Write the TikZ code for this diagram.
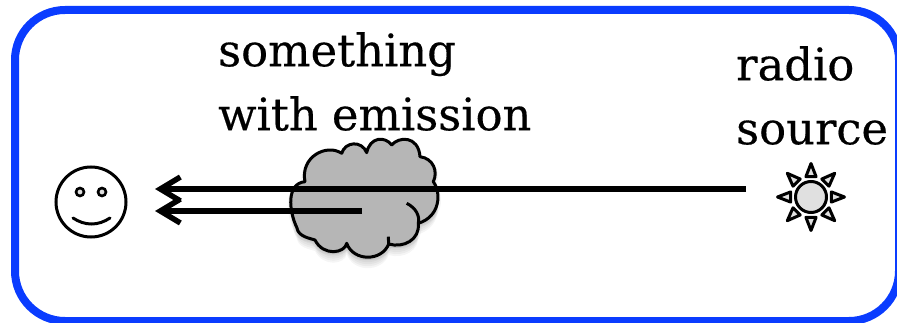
\documentclass[tikz,border=0pt]{standalone}
\usepackage{fontspec}
\setmainfont{DejaVu Serif}[FakeBold=0.35]
\usepackage{tikz}
\usetikzlibrary{arrows.meta,positioning,calc}
\definecolor{framemain}{HTML}{0A3CFF}
\definecolor{cloudgray}{HTML}{B6B6B6}
\definecolor{sungray}{HTML}{E0E0E0}
\newcommand{\cloudpath}{(305,181.7) .. controls (300,156.7) and (326.7,143.3) .. (341.7,153.3)
  .. controls (345,141.7) and (361.7,140) .. (366.7,152.7)
  .. controls (370,136.7) and (385,136) .. (391.7,145)
  .. controls (398.3,136.7) and (418.3,135) .. (420,156.7)
  .. controls (433.3,158.3) and (438.3,171.7) .. (433.3,181.7)
  .. controls (441.7,193.3) and (440,216.7) .. (418.3,223.3)
  .. controls (420,240) and (403.3,248.3) .. (388.7,244)
  .. controls (381.7,261.7) and (353.3,261.7) .. (346.7,243.3)
  .. controls (345,253.3) and (323.3,256.7) .. (315,240)
  .. controls (310,238.3) and (298.3,236.7) .. (297,228)
  .. controls (288.3,210) and (286.7,183.3) .. (305,181.7) -- cycle}
\begin{document}
\begin{tikzpicture}[x=1pt,y=-1pt,
  ray/.style={line width=3pt, fill=sungray, line join=round},
  outline/.style={line width=3pt, line join=round},
  eye/.style={circle, draw, line width=2.6pt, fill=sungray, minimum size=8pt, inner sep=0pt},
  beam/.style={line width=5.5pt, -{Straight Barb[length=20pt,width=24pt]}},
  label/.style={font=\fontsize{44.8}{64}\selectfont, align=left, anchor=north west, inner sep=0pt}]
\useasboundingbox (0,0) rectangle (897,323);
\draw[framemain, line width=8pt, rounded corners=50pt] (15,10) rectangle (899,321);
% cloud, soft shadow first
\foreach \d in {1,3,5,7,9,11} \fill[black, opacity=0.04, yshift=-\d pt] \cloudpath;
\foreach \d in {-3,3} \fill[black, opacity=0.04, xshift=\d pt, yshift=-3pt] \cloudpath;
\draw[outline, fill=cloudgray] \cloudpath;
\draw[outline] (406.7,203.3) .. controls (416,208) and (420,216) .. (418.3,223.3);
\draw[outline] (388.3,236.7) -- (388.7,244);
% observer
\node[circle, draw, line width=3pt, minimum size=70pt, inner sep=0pt] (face) at (91,202) {};
\node[eye] (eyeL) at (80,192) {};
\node[eye] (eyeR) at (102,192) {};
\draw[line width=3pt, line cap=round] (73,218) .. controls (85,226) and (98,226) .. (110,218);
% radio source
\node[circle, draw, line width=3pt, fill=sungray, minimum size=31pt, inner sep=0pt] (sun) at (811,197) {};
\foreach \a in {0,45,...,315}
  \draw[ray] ($(sun)+(\a:33.5)$) -- ($(sun)+(\a+14:21)$) -- ($(sun)+(\a-14:21)$) -- cycle;
% beams
\coordinate (srcEnd) at (746,189);
\coordinate (obsA) at (155,189);
\coordinate (cloudEnd) at (362,211);
\coordinate (obsB) at (155,211);
\draw[beam] (srcEnd) -- (obsA);
\draw[beam] (cloudEnd) -- (obsB);
% labels
\node[label] (emission) at (218,32) {something\\with emission};
\node[label] (source) at (736,46) {radio\\source};
\end{tikzpicture}
\end{document}
